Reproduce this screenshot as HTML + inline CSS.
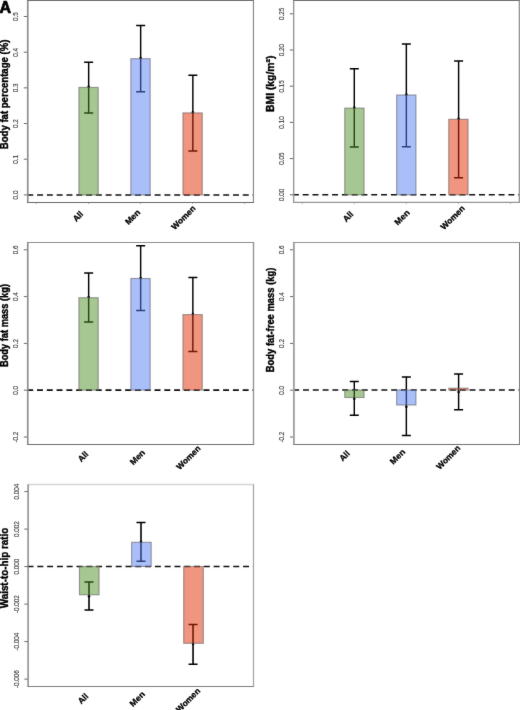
<!DOCTYPE html>
<html><head><meta charset="utf-8"><title>Figure</title>
<style>html,body{margin:0;padding:0;background:#fff;width:520px;height:710px;overflow:hidden}svg{display:block}text{font-family:"Liberation Sans",sans-serif}</style>
</head><body>
<svg width="520" height="710" viewBox="0 0 520 710">
<defs><filter id="bl" x="0" y="0" width="520" height="710" filterUnits="userSpaceOnUse" color-interpolation-filters="sRGB"><feConvolveMatrix order="3" kernelMatrix="0.00524 0.06192 0.00524 0.06192 0.73137 0.06192 0.00524 0.06192 0.00524" edgeMode="duplicate" preserveAlpha="false"/></filter></defs>
<g filter="url(#bl)">
<rect width="520" height="710" fill="#fff"/>
<line x1="23.80" y1="194.9" x2="27.5" y2="194.9" stroke="#6a6a6a" stroke-width="1"/>
<text transform="translate(18.10,195.00) rotate(-90)" text-anchor="middle" font-size="6.8" textLength="8.79" lengthAdjust="spacingAndGlyphs" fill="#383838" stroke="#383838" stroke-width="0.12">0.0</text>
<line x1="23.80" y1="159.2" x2="27.5" y2="159.2" stroke="#6a6a6a" stroke-width="1"/>
<text transform="translate(18.10,159.30) rotate(-90)" text-anchor="middle" font-size="6.8" textLength="8.79" lengthAdjust="spacingAndGlyphs" fill="#383838" stroke="#383838" stroke-width="0.12">0.1</text>
<line x1="23.80" y1="123.5" x2="27.5" y2="123.5" stroke="#6a6a6a" stroke-width="1"/>
<text transform="translate(18.10,123.60) rotate(-90)" text-anchor="middle" font-size="6.8" textLength="8.79" lengthAdjust="spacingAndGlyphs" fill="#383838" stroke="#383838" stroke-width="0.12">0.2</text>
<line x1="23.80" y1="87.85" x2="27.5" y2="87.85" stroke="#6a6a6a" stroke-width="1"/>
<text transform="translate(18.10,87.95) rotate(-90)" text-anchor="middle" font-size="6.8" textLength="8.79" lengthAdjust="spacingAndGlyphs" fill="#383838" stroke="#383838" stroke-width="0.12">0.3</text>
<line x1="23.80" y1="52.2" x2="27.5" y2="52.2" stroke="#6a6a6a" stroke-width="1"/>
<text transform="translate(18.10,52.30) rotate(-90)" text-anchor="middle" font-size="6.8" textLength="8.79" lengthAdjust="spacingAndGlyphs" fill="#383838" stroke="#383838" stroke-width="0.12">0.4</text>
<line x1="23.80" y1="16.5" x2="27.5" y2="16.5" stroke="#6a6a6a" stroke-width="1"/>
<text transform="translate(18.10,16.60) rotate(-90)" text-anchor="middle" font-size="6.8" textLength="8.79" lengthAdjust="spacingAndGlyphs" fill="#383838" stroke="#383838" stroke-width="0.12">0.5</text>
<line x1="36.30" y1="202.5" x2="36.30" y2="204.1" stroke="#b8b8b8" stroke-width="1"/>
<line x1="88.55" y1="202.5" x2="88.55" y2="204.1" stroke="#b8b8b8" stroke-width="1"/>
<line x1="140.50" y1="202.5" x2="140.50" y2="204.1" stroke="#b8b8b8" stroke-width="1"/>
<line x1="192.60" y1="202.5" x2="192.60" y2="204.1" stroke="#b8b8b8" stroke-width="1"/>
<line x1="244.60" y1="202.5" x2="244.60" y2="204.1" stroke="#b8b8b8" stroke-width="1"/>
<path d="M88.65 62.2V113.0" stroke="#000" stroke-width="1.45" fill="none"/>
<path d="M84.15 62.2H93.15M84.15 113.0H93.15" stroke="#000" stroke-width="1.5" fill="none"/>
<path d="M140.65 25.4V91.8" stroke="#000" stroke-width="1.45" fill="none"/>
<path d="M136.15 25.4H145.15M136.15 91.8H145.15" stroke="#000" stroke-width="1.5" fill="none"/>
<path d="M192.85 75.3V150.9" stroke="#000" stroke-width="1.45" fill="none"/>
<path d="M188.35 75.3H197.35M188.35 150.9H197.35" stroke="#000" stroke-width="1.5" fill="none"/>
<line x1="27.3" y1="195.0" x2="253.5" y2="195.0" stroke="#111111" stroke-width="1.6" stroke-dasharray="5.96 3.835"/>
<circle cx="88.65" cy="86.7" r="1.25" fill="#000"/>
<circle cx="140.65" cy="58.0" r="1.25" fill="#000"/>
<circle cx="192.85" cy="112.2" r="1.25" fill="#000"/>
<rect x="78.90" y="87.4" width="19.3" height="107.60" fill="rgb(77,141,37)" fill-opacity="0.5" stroke="#606060" stroke-opacity="0.6" stroke-width="1.1"/>
<rect x="130.85" y="58.7" width="19.3" height="136.30" fill="rgb(85,125,245)" fill-opacity="0.5" stroke="#606060" stroke-opacity="0.6" stroke-width="1.1"/>
<rect x="182.95" y="112.9" width="19.3" height="82.10" fill="rgb(225,43,0)" fill-opacity="0.5" stroke="#606060" stroke-opacity="0.6" stroke-width="1.1"/>
<path d="M26.93 0.5H254.05" stroke="rgb(112,112,112)" stroke-width="1.0"/>
<path d="M26.93 202.45H254.05" stroke="rgb(105,105,105)" stroke-width="1.15"/>
<path d="M27.75 0.5V202.45" stroke="rgb(141,141,141)" stroke-width="1.65"/>
<path d="M253.45 0.5V202.45" stroke="rgb(138,138,138)" stroke-width="1.2"/>
<text transform="translate(8.1,94.4) rotate(-90)" text-anchor="middle" font-weight="bold" font-size="10.6" textLength="109.6" lengthAdjust="spacingAndGlyphs" fill="#000" stroke="#000" stroke-width="0.4">Body fat percentage (%)</text>
<text transform="translate(77.8,216.3) rotate(-45)" text-anchor="middle" dominant-baseline="central" font-weight="bold" font-size="8.4" textLength="10.73" lengthAdjust="spacingAndGlyphs" fill="#000" stroke="#000" stroke-width="0.28">All</text>
<text transform="translate(132.5,217.0) rotate(-45)" text-anchor="middle" dominant-baseline="central" font-weight="bold" font-size="8.4" textLength="17.64" lengthAdjust="spacingAndGlyphs" fill="#000" stroke="#000" stroke-width="0.28">Men</text>
<text transform="translate(183.3,217.5) rotate(-45)" text-anchor="middle" dominant-baseline="central" font-weight="bold" font-size="8.4" textLength="30.18" lengthAdjust="spacingAndGlyphs" fill="#000" stroke="#000" stroke-width="0.28">Women</text>
<line x1="289.80" y1="194.8" x2="293.5" y2="194.8" stroke="#6a6a6a" stroke-width="1"/>
<text transform="translate(284.10,194.90) rotate(-90)" text-anchor="middle" font-size="6.8" textLength="12.31" lengthAdjust="spacingAndGlyphs" fill="#383838" stroke="#383838" stroke-width="0.12">0.00</text>
<line x1="289.80" y1="158.6" x2="293.5" y2="158.6" stroke="#6a6a6a" stroke-width="1"/>
<text transform="translate(284.10,158.70) rotate(-90)" text-anchor="middle" font-size="6.8" textLength="12.31" lengthAdjust="spacingAndGlyphs" fill="#383838" stroke="#383838" stroke-width="0.12">0.05</text>
<line x1="289.80" y1="122.4" x2="293.5" y2="122.4" stroke="#6a6a6a" stroke-width="1"/>
<text transform="translate(284.10,122.50) rotate(-90)" text-anchor="middle" font-size="6.8" textLength="12.31" lengthAdjust="spacingAndGlyphs" fill="#383838" stroke="#383838" stroke-width="0.12">0.10</text>
<line x1="289.80" y1="86.2" x2="293.5" y2="86.2" stroke="#6a6a6a" stroke-width="1"/>
<text transform="translate(284.10,86.30) rotate(-90)" text-anchor="middle" font-size="6.8" textLength="12.31" lengthAdjust="spacingAndGlyphs" fill="#383838" stroke="#383838" stroke-width="0.12">0.15</text>
<line x1="289.80" y1="50.0" x2="293.5" y2="50.0" stroke="#6a6a6a" stroke-width="1"/>
<text transform="translate(284.10,50.10) rotate(-90)" text-anchor="middle" font-size="6.8" textLength="12.31" lengthAdjust="spacingAndGlyphs" fill="#383838" stroke="#383838" stroke-width="0.12">0.20</text>
<line x1="289.80" y1="13.8" x2="293.5" y2="13.8" stroke="#6a6a6a" stroke-width="1"/>
<text transform="translate(284.10,13.90) rotate(-90)" text-anchor="middle" font-size="6.8" textLength="12.31" lengthAdjust="spacingAndGlyphs" fill="#383838" stroke="#383838" stroke-width="0.12">0.25</text>
<line x1="302.30" y1="202.5" x2="302.30" y2="204.1" stroke="#b8b8b8" stroke-width="1"/>
<line x1="354.40" y1="202.5" x2="354.40" y2="204.1" stroke="#b8b8b8" stroke-width="1"/>
<line x1="406.30" y1="202.5" x2="406.30" y2="204.1" stroke="#b8b8b8" stroke-width="1"/>
<line x1="458.40" y1="202.5" x2="458.40" y2="204.1" stroke="#b8b8b8" stroke-width="1"/>
<line x1="510.40" y1="202.5" x2="510.40" y2="204.1" stroke="#b8b8b8" stroke-width="1"/>
<path d="M354.3 68.8V146.9" stroke="#000" stroke-width="1.45" fill="none"/>
<path d="M349.80 68.8H358.80M349.80 146.9H358.80" stroke="#000" stroke-width="1.5" fill="none"/>
<path d="M406.35 44.0V146.7" stroke="#000" stroke-width="1.45" fill="none"/>
<path d="M401.85 44.0H410.85M401.85 146.7H410.85" stroke="#000" stroke-width="1.5" fill="none"/>
<path d="M458.6 61.0V177.7" stroke="#000" stroke-width="1.45" fill="none"/>
<path d="M454.10 61.0H463.10M454.10 177.7H463.10" stroke="#000" stroke-width="1.5" fill="none"/>
<line x1="292.9" y1="194.8" x2="519.3" y2="194.8" stroke="#111111" stroke-width="1.6" stroke-dasharray="5.96 3.835"/>
<circle cx="354.3" cy="107.5" r="1.25" fill="#000"/>
<circle cx="406.35" cy="94.5" r="1.25" fill="#000"/>
<circle cx="458.6" cy="118.7" r="1.25" fill="#000"/>
<rect x="344.75" y="108.1" width="19.3" height="86.70" fill="rgb(77,141,37)" fill-opacity="0.5" stroke="#606060" stroke-opacity="0.6" stroke-width="1.1"/>
<rect x="396.65" y="95.0" width="19.3" height="99.80" fill="rgb(85,125,245)" fill-opacity="0.5" stroke="#606060" stroke-opacity="0.6" stroke-width="1.1"/>
<rect x="448.75" y="119.3" width="19.3" height="75.50" fill="rgb(225,43,0)" fill-opacity="0.5" stroke="#606060" stroke-opacity="0.6" stroke-width="1.1"/>
<path d="M292.95 0.5H520.00" stroke="rgb(112,112,112)" stroke-width="1.0"/>
<path d="M292.95 202.4H520.00" stroke="rgb(150,150,150)" stroke-width="1.3"/>
<path d="M293.65 0.5V202.4" stroke="rgb(150,150,150)" stroke-width="1.4"/>
<path d="M519.35 0.5V202.4" stroke="rgb(150,150,150)" stroke-width="1.3"/>
<text transform="translate(274.3,83.8) rotate(-90)" text-anchor="middle" font-weight="bold" font-size="10.8" textLength="56.3" lengthAdjust="spacingAndGlyphs" fill="#000" stroke="#000" stroke-width="0.4">BMI (kg/m²)</text>
<text transform="translate(348.0,216.5) rotate(-45)" text-anchor="middle" dominant-baseline="central" font-weight="bold" font-size="8.4" textLength="10.73" lengthAdjust="spacingAndGlyphs" fill="#000" stroke="#000" stroke-width="0.28">All</text>
<text transform="translate(401.9,217.3) rotate(-45)" text-anchor="middle" dominant-baseline="central" font-weight="bold" font-size="8.4" textLength="17.64" lengthAdjust="spacingAndGlyphs" fill="#000" stroke="#000" stroke-width="0.28">Men</text>
<text transform="translate(452.6,217.5) rotate(-45)" text-anchor="middle" dominant-baseline="central" font-weight="bold" font-size="8.4" textLength="30.18" lengthAdjust="spacingAndGlyphs" fill="#000" stroke="#000" stroke-width="0.28">Women</text>
<line x1="23.80" y1="437.0" x2="27.5" y2="437.0" stroke="#6a6a6a" stroke-width="1"/>
<text transform="translate(18.10,437.10) rotate(-90)" text-anchor="middle" font-size="6.8" textLength="10.90" lengthAdjust="spacingAndGlyphs" fill="#383838" stroke="#383838" stroke-width="0.12">-0.2</text>
<line x1="23.80" y1="390.2" x2="27.5" y2="390.2" stroke="#6a6a6a" stroke-width="1"/>
<text transform="translate(18.10,390.30) rotate(-90)" text-anchor="middle" font-size="6.8" textLength="8.79" lengthAdjust="spacingAndGlyphs" fill="#383838" stroke="#383838" stroke-width="0.12">0.0</text>
<line x1="23.80" y1="343.4" x2="27.5" y2="343.4" stroke="#6a6a6a" stroke-width="1"/>
<text transform="translate(18.10,343.50) rotate(-90)" text-anchor="middle" font-size="6.8" textLength="8.79" lengthAdjust="spacingAndGlyphs" fill="#383838" stroke="#383838" stroke-width="0.12">0.2</text>
<line x1="23.80" y1="296.6" x2="27.5" y2="296.6" stroke="#6a6a6a" stroke-width="1"/>
<text transform="translate(18.10,296.70) rotate(-90)" text-anchor="middle" font-size="6.8" textLength="8.79" lengthAdjust="spacingAndGlyphs" fill="#383838" stroke="#383838" stroke-width="0.12">0.4</text>
<line x1="23.80" y1="249.8" x2="27.5" y2="249.8" stroke="#6a6a6a" stroke-width="1"/>
<text transform="translate(18.10,249.90) rotate(-90)" text-anchor="middle" font-size="6.8" textLength="8.79" lengthAdjust="spacingAndGlyphs" fill="#383838" stroke="#383838" stroke-width="0.12">0.6</text>
<path d="M88.65 273.1V322.1" stroke="#000" stroke-width="1.45" fill="none"/>
<path d="M84.15 273.1H93.15M84.15 322.1H93.15" stroke="#000" stroke-width="1.5" fill="none"/>
<path d="M140.65 245.7V310.6" stroke="#000" stroke-width="1.45" fill="none"/>
<path d="M136.15 245.7H145.15M136.15 310.6H145.15" stroke="#000" stroke-width="1.5" fill="none"/>
<path d="M192.85 277.6V351.5" stroke="#000" stroke-width="1.45" fill="none"/>
<path d="M188.35 277.6H197.35M188.35 351.5H197.35" stroke="#000" stroke-width="1.5" fill="none"/>
<line x1="27.2" y1="390.1" x2="253.5" y2="390.1" stroke="#111111" stroke-width="1.6" stroke-dasharray="5.96 3.835"/>
<circle cx="88.65" cy="297.1" r="1.25" fill="#000"/>
<circle cx="140.65" cy="277.9" r="1.25" fill="#000"/>
<circle cx="192.85" cy="314.0" r="1.25" fill="#000"/>
<rect x="78.90" y="297.7" width="19.3" height="92.40" fill="rgb(77,141,37)" fill-opacity="0.5" stroke="#606060" stroke-opacity="0.6" stroke-width="1.1"/>
<rect x="130.85" y="278.5" width="19.3" height="111.60" fill="rgb(85,125,245)" fill-opacity="0.5" stroke="#606060" stroke-opacity="0.6" stroke-width="1.1"/>
<rect x="182.95" y="314.6" width="19.3" height="75.50" fill="rgb(225,43,0)" fill-opacity="0.5" stroke="#606060" stroke-opacity="0.6" stroke-width="1.1"/>
<path d="M26.93 242.5H254.18" stroke="rgb(144,144,144)" stroke-width="1.2"/>
<path d="M26.93 444.5H254.18" stroke="rgb(111,111,111)" stroke-width="1.1"/>
<path d="M27.75 242.5V444.5" stroke="rgb(141,141,141)" stroke-width="1.65"/>
<path d="M253.5 242.5V444.5" stroke="rgb(147,147,147)" stroke-width="1.35"/>
<text transform="translate(8.1,325.5) rotate(-90)" text-anchor="middle" font-weight="bold" font-size="10.6" textLength="83.0" lengthAdjust="spacingAndGlyphs" fill="#000" stroke="#000" stroke-width="0.4">Body fat mass (kg)</text>
<text transform="translate(82.9,456.5) rotate(-45)" text-anchor="middle" dominant-baseline="central" font-weight="bold" font-size="8.4" textLength="10.73" lengthAdjust="spacingAndGlyphs" fill="#000" stroke="#000" stroke-width="0.28">All</text>
<text transform="translate(137.3,457.2) rotate(-45)" text-anchor="middle" dominant-baseline="central" font-weight="bold" font-size="8.4" textLength="17.64" lengthAdjust="spacingAndGlyphs" fill="#000" stroke="#000" stroke-width="0.28">Men</text>
<text transform="translate(188.3,457.5) rotate(-45)" text-anchor="middle" dominant-baseline="central" font-weight="bold" font-size="8.4" textLength="30.18" lengthAdjust="spacingAndGlyphs" fill="#000" stroke="#000" stroke-width="0.28">Women</text>
<line x1="290.00" y1="437.0" x2="293.7" y2="437.0" stroke="#6a6a6a" stroke-width="1"/>
<text transform="translate(284.30,437.10) rotate(-90)" text-anchor="middle" font-size="6.8" textLength="10.90" lengthAdjust="spacingAndGlyphs" fill="#383838" stroke="#383838" stroke-width="0.12">-0.2</text>
<line x1="290.00" y1="390.2" x2="293.7" y2="390.2" stroke="#6a6a6a" stroke-width="1"/>
<text transform="translate(284.30,390.30) rotate(-90)" text-anchor="middle" font-size="6.8" textLength="8.79" lengthAdjust="spacingAndGlyphs" fill="#383838" stroke="#383838" stroke-width="0.12">0.0</text>
<line x1="290.00" y1="343.4" x2="293.7" y2="343.4" stroke="#6a6a6a" stroke-width="1"/>
<text transform="translate(284.30,343.50) rotate(-90)" text-anchor="middle" font-size="6.8" textLength="8.79" lengthAdjust="spacingAndGlyphs" fill="#383838" stroke="#383838" stroke-width="0.12">0.2</text>
<line x1="290.00" y1="296.6" x2="293.7" y2="296.6" stroke="#6a6a6a" stroke-width="1"/>
<text transform="translate(284.30,296.70) rotate(-90)" text-anchor="middle" font-size="6.8" textLength="8.79" lengthAdjust="spacingAndGlyphs" fill="#383838" stroke="#383838" stroke-width="0.12">0.4</text>
<line x1="290.00" y1="249.8" x2="293.7" y2="249.8" stroke="#6a6a6a" stroke-width="1"/>
<text transform="translate(284.30,249.90) rotate(-90)" text-anchor="middle" font-size="6.8" textLength="8.79" lengthAdjust="spacingAndGlyphs" fill="#383838" stroke="#383838" stroke-width="0.12">0.6</text>
<path d="M354.3 381.5V415.3" stroke="#000" stroke-width="1.45" fill="none"/>
<path d="M349.80 381.5H358.80M349.80 415.3H358.80" stroke="#000" stroke-width="1.5" fill="none"/>
<path d="M406.35 376.9V435.6" stroke="#000" stroke-width="1.45" fill="none"/>
<path d="M401.85 376.9H410.85M401.85 435.6H410.85" stroke="#000" stroke-width="1.5" fill="none"/>
<path d="M458.6 374.0V409.8" stroke="#000" stroke-width="1.45" fill="none"/>
<path d="M454.10 374.0H463.10M454.10 409.8H463.10" stroke="#000" stroke-width="1.5" fill="none"/>
<line x1="293.2" y1="390.0" x2="519.3" y2="390.0" stroke="#111111" stroke-width="1.6" stroke-dasharray="5.96 3.835"/>
<circle cx="354.3" cy="398.8" r="1.25" fill="#000"/>
<circle cx="406.35" cy="406.7" r="1.25" fill="#000"/>
<circle cx="458.6" cy="392.0" r="1.25" fill="#000"/>
<rect x="344.75" y="390.0" width="19.3" height="7.50" fill="rgb(77,141,37)" fill-opacity="0.5" stroke="#606060" stroke-opacity="0.6" stroke-width="1.1"/>
<rect x="396.65" y="390.0" width="19.3" height="15.00" fill="rgb(85,125,245)" fill-opacity="0.5" stroke="#606060" stroke-opacity="0.6" stroke-width="1.1"/>
<rect x="448.75" y="388.2" width="19.3" height="1.80" fill="rgb(225,43,0)" fill-opacity="0.5" stroke="#606060" stroke-opacity="0.6" stroke-width="1.1"/>
<path d="M292.95 242.5H520.00" stroke="rgb(147,147,147)" stroke-width="1.2"/>
<path d="M292.95 444.45H520.00" stroke="rgb(114,114,114)" stroke-width="1.15"/>
<path d="M293.9 242.5V444.45" stroke="rgb(162,162,162)" stroke-width="1.9"/>
<path d="M519.5 242.5V444.45" stroke="rgb(129,129,129)" stroke-width="1.0"/>
<text transform="translate(274.3,319.9) rotate(-90)" text-anchor="middle" font-weight="bold" font-size="10.6" textLength="104.6" lengthAdjust="spacingAndGlyphs" fill="#000" stroke="#000" stroke-width="0.4">Body fat-free mass (kg)</text>
<text transform="translate(344.5,455.8) rotate(-45)" text-anchor="middle" dominant-baseline="central" font-weight="bold" font-size="8.4" textLength="10.73" lengthAdjust="spacingAndGlyphs" fill="#000" stroke="#000" stroke-width="0.28">All</text>
<text transform="translate(397.4,456.6) rotate(-45)" text-anchor="middle" dominant-baseline="central" font-weight="bold" font-size="8.4" textLength="17.64" lengthAdjust="spacingAndGlyphs" fill="#000" stroke="#000" stroke-width="0.28">Men</text>
<text transform="translate(448.2,457.3) rotate(-45)" text-anchor="middle" dominant-baseline="central" font-weight="bold" font-size="8.4" textLength="30.18" lengthAdjust="spacingAndGlyphs" fill="#000" stroke="#000" stroke-width="0.28">Women</text>
<line x1="24.30" y1="491.6" x2="28.0" y2="491.6" stroke="#6a6a6a" stroke-width="1"/>
<text transform="translate(18.60,491.70) rotate(-90)" text-anchor="middle" font-size="6.8" textLength="15.82" lengthAdjust="spacingAndGlyphs" fill="#383838" stroke="#383838" stroke-width="0.12">0.004</text>
<line x1="24.30" y1="529.1" x2="28.0" y2="529.1" stroke="#6a6a6a" stroke-width="1"/>
<text transform="translate(18.60,529.20) rotate(-90)" text-anchor="middle" font-size="6.8" textLength="15.82" lengthAdjust="spacingAndGlyphs" fill="#383838" stroke="#383838" stroke-width="0.12">0.002</text>
<line x1="24.30" y1="566.6" x2="28.0" y2="566.6" stroke="#6a6a6a" stroke-width="1"/>
<text transform="translate(18.60,566.70) rotate(-90)" text-anchor="middle" font-size="6.8" textLength="15.82" lengthAdjust="spacingAndGlyphs" fill="#383838" stroke="#383838" stroke-width="0.12">0.000</text>
<line x1="24.30" y1="604.1" x2="28.0" y2="604.1" stroke="#6a6a6a" stroke-width="1"/>
<text transform="translate(18.60,604.20) rotate(-90)" text-anchor="middle" font-size="6.8" textLength="17.93" lengthAdjust="spacingAndGlyphs" fill="#383838" stroke="#383838" stroke-width="0.12">-0.002</text>
<line x1="24.30" y1="641.6" x2="28.0" y2="641.6" stroke="#6a6a6a" stroke-width="1"/>
<text transform="translate(18.60,641.70) rotate(-90)" text-anchor="middle" font-size="6.8" textLength="17.93" lengthAdjust="spacingAndGlyphs" fill="#383838" stroke="#383838" stroke-width="0.12">-0.004</text>
<line x1="24.30" y1="679.1" x2="28.0" y2="679.1" stroke="#6a6a6a" stroke-width="1"/>
<text transform="translate(18.60,679.20) rotate(-90)" text-anchor="middle" font-size="6.8" textLength="17.93" lengthAdjust="spacingAndGlyphs" fill="#383838" stroke="#383838" stroke-width="0.12">-0.006</text>
<path d="M89.0 581.9V609.9" stroke="#1e1e1e" stroke-width="1.8" fill="none"/>
<path d="M84.50 581.9H93.50M84.50 609.9H93.50" stroke="#000" stroke-width="1.5" fill="none"/>
<path d="M141.0 522.4V561.2" stroke="#1e1e1e" stroke-width="1.8" fill="none"/>
<path d="M136.50 522.4H145.50M136.50 561.2H145.50" stroke="#000" stroke-width="1.5" fill="none"/>
<path d="M193.05 624.4V664.3" stroke="#1e1e1e" stroke-width="1.8" fill="none"/>
<path d="M188.55 624.4H197.55M188.55 664.3H197.55" stroke="#000" stroke-width="1.5" fill="none"/>
<line x1="27.55" y1="566.5" x2="253.5" y2="566.5" stroke="#111111" stroke-width="1.6" stroke-dasharray="5.96 3.835"/>
<circle cx="89.0" cy="596.2" r="1.25" fill="#000"/>
<circle cx="141.0" cy="541.8" r="1.25" fill="#000"/>
<circle cx="193.05" cy="644.1" r="1.25" fill="#000"/>
<rect x="79.45" y="566.5" width="19.6" height="28.30" fill="rgb(77,141,37)" fill-opacity="0.5" stroke="#606060" stroke-opacity="0.6" stroke-width="1.1"/>
<rect x="131.60" y="542.3" width="19.6" height="24.20" fill="rgb(85,125,245)" fill-opacity="0.5" stroke="#606060" stroke-opacity="0.6" stroke-width="1.1"/>
<rect x="183.70" y="566.5" width="19.6" height="76.80" fill="rgb(225,43,0)" fill-opacity="0.5" stroke="#606060" stroke-opacity="0.6" stroke-width="1.1"/>
<path d="M27.43 484.5H254.12" stroke="rgb(213,213,213)" stroke-width="1.35"/>
<path d="M27.43 686.5H254.12" stroke="rgb(126,126,126)" stroke-width="1.15"/>
<path d="M28.1 484.5V686.5" stroke="rgb(126,126,126)" stroke-width="1.35"/>
<path d="M253.5 484.5V686.5" stroke="rgb(165,165,165)" stroke-width="1.25"/>
<text transform="translate(8.1,568.0) rotate(-90)" text-anchor="middle" font-weight="bold" font-size="10.6" textLength="80.4" lengthAdjust="spacingAndGlyphs" fill="#000" stroke="#000" stroke-width="0.4">Waist-to-hip ratio</text>
<text transform="translate(82.9,698.6) rotate(-45)" text-anchor="middle" dominant-baseline="central" font-weight="bold" font-size="8.4" textLength="10.73" lengthAdjust="spacingAndGlyphs" fill="#000" stroke="#000" stroke-width="0.28">All</text>
<text transform="translate(137.2,698.8) rotate(-45)" text-anchor="middle" dominant-baseline="central" font-weight="bold" font-size="8.4" textLength="17.64" lengthAdjust="spacingAndGlyphs" fill="#000" stroke="#000" stroke-width="0.28">Men</text>
<text transform="translate(188.0,700.0) rotate(-45)" text-anchor="middle" dominant-baseline="central" font-weight="bold" font-size="8.4" textLength="30.18" lengthAdjust="spacingAndGlyphs" fill="#000" stroke="#000" stroke-width="0.28">Women</text>
<text x="-0.6" y="12.5" font-weight="bold" font-size="16" fill="#000" stroke="#000" stroke-width="0.7">A</text>
</g>
</svg>
</body></html>
